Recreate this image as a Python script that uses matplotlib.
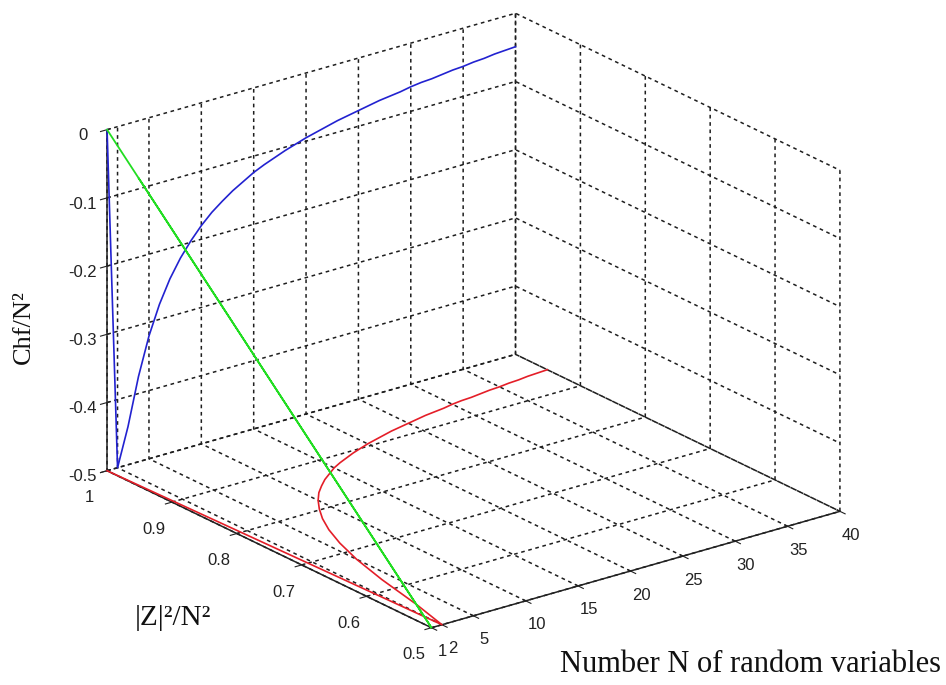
import numpy as np
import matplotlib
matplotlib.use("Agg")
import matplotlib.pyplot as plt
from mpl_toolkits.mplot3d import proj3d

# values (one point per N)
n_vals = np.arange(1, 41)
chf = [0.0, -0.5, -0.444, -0.375, -0.32, -0.278, -0.245, -0.219, -0.198, -0.18,
       -0.165, -0.153, -0.142, -0.133, -0.124, -0.117, -0.111, -0.105, -0.1, -0.095,
       -0.091, -0.087, -0.083, -0.08, -0.077, -0.074, -0.071, -0.069, -0.067, -0.064,
       -0.062, -0.061, -0.059, -0.057, -0.056, -0.054, -0.053, -0.051, -0.05, -0.049]
z2 = [1.0, 0.5, 0.556, 0.625, 0.68, 0.722, 0.755, 0.781, 0.802, 0.82,
      0.835, 0.847, 0.858, 0.867, 0.876, 0.883, 0.889, 0.895, 0.9, 0.905,
      0.909, 0.913, 0.917, 0.92, 0.923, 0.926, 0.929, 0.931, 0.933, 0.936,
      0.938, 0.939, 0.941, 0.943, 0.944, 0.946, 0.947, 0.949, 0.95, 0.951]

x_ticks = [1, 2, 5, 10, 15, 20, 25, 30, 35, 40]
y_ticks = [0.5, 0.6, 0.7, 0.8, 0.9, 1.0]
z_ticks = [-0.5, -0.4, -0.3, -0.2, -0.1, 0.0]
y_ticklabels = ["0.5", "0.6", "0.7", "0.8", "0.9", "1"]
z_ticklabels = ["-0.5", "-0.4", "-0.3", "-0.2", "-0.1", "0"]

plt.rcParams["font.family"] = ["Liberation Sans", "DejaVu Sans"]
plt.rcParams["grid.color"] = "#1e1e1e"
plt.rcParams["grid.linestyle"] = (0, (2.4, 2.4))
plt.rcParams["grid.linewidth"] = 1.1
plt.rcParams["axes.edgecolor"] = "#222222"
plt.rcParams["axes.linewidth"] = 1.1

W, H = 946, 685
fig = plt.figure(figsize=(W / 100, H / 100), dpi=100)
ax = fig.add_axes([0.1, 0.1, 0.8, 0.8], projection="3d", proj_type="ortho")
ax.view_init(elev=21.8, azim=-127.5)
ax.set_box_aspect((513, 531, 366))

n = np.array(n_vals)
zc = np.array(chf)
yc = np.array(z2)
ones = np.ones_like(zc)

ax.plot(n, ones * 1.0, zc, color="#2222d0", lw=1.2)        # on the back wall
ax.plot(n, yc, ones * -0.5, color="#e41e28", lw=1.2)       # on the floor
ax.plot(ones * 1, yc, zc, color="#22dd22", lw=1.3)         # on the N=1 wall

ax.set_xlim(1, 40)
ax.set_ylim(0.5, 1)
ax.set_zlim(-0.5, 0)
ax.set_xticks(x_ticks)
ax.set_xticklabels([str(t) for t in x_ticks])
ax.set_yticks(y_ticks)
ax.set_yticklabels(y_ticklabels)
ax.set_zticks(z_ticks)
ax.set_zticklabels(z_ticklabels)
ax.tick_params(axis="x", labelsize=12, colors="#222222", pad=2)
ax.tick_params(axis="y", labelsize=12, colors="#222222", pad=5)
ax.tick_params(axis="z", labelsize=12, colors="#222222", pad=2)

for a in (ax.xaxis, ax.yaxis, ax.zaxis):
    a.set_pane_color((1, 1, 1, 0))
    a.pane.set_edgecolor("none")

# fit the box onto the reference corners
fig.canvas.draw()
corners = np.array([[1, 1, 0], [40, 0.5, -0.5], [1, 0.5, -0.5], [40, 1, 0]])
target = np.array([[107, H - 130], [837, H - 512], [430, H - 628], [520, H - 12]], float)
px, py, _ = proj3d.proj_transform(corners[:, 0], corners[:, 1], corners[:, 2], ax.get_proj())
cur = ax.transData.transform(np.column_stack([px, py]))
scale = (np.linalg.norm(target[0] - target[1]) + np.linalg.norm(target[2] - target[3])) / \
        (np.linalg.norm(cur[0] - cur[1]) + np.linalg.norm(cur[2] - cur[3]))
bb = ax.get_position()
side = bb.width * W
acen = np.array([(bb.x0 + bb.width / 2) * W, (bb.y0 + bb.height / 2) * H])
new_side = side * scale
new_cen = target.mean(axis=0) - (cur.mean(axis=0) - acen) * scale
ax.set_position([(new_cen[0] - new_side / 2) / W, (new_cen[1] - new_side / 2) / H,
                 new_side / W, new_side / H])

serif = ["Liberation Serif", "DejaVu Serif"]
fig.text(750 / W, 1 - 665 / H, "Number N of random variables", family=serif,
         fontsize=22, ha="center", va="center", color="#111111")
fig.text(173 / W, 1 - 618 / H, "|Z|²/N²", family=serif, fontsize=21,
         ha="center", va="center", color="#111111")
fig.text(24 / W, 1 - 327 / H, "Chf/N²", family=serif, fontsize=19,
         ha="center", va="center", rotation=90, color="#111111")

fig.savefig("out.png", dpi=100)
